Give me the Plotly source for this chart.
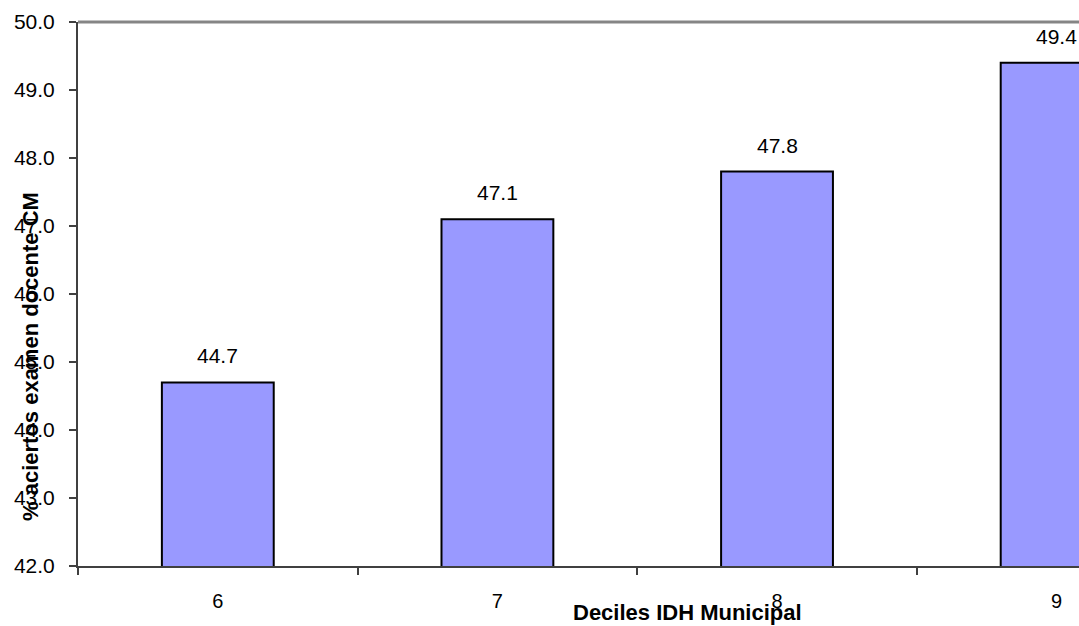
import plotly.graph_objects as go

# Deciles del IDH municipal y porcentaje de aciertos
deciles = ["6", "7", "8", "9"]
aciertos = [44.7, 47.1, 47.8, 49.4]
etiquetas = ["44.7", "47.1", "47.8", "49.4"]
y_ticks = [42, 43, 44, 45, 46, 47, 48, 49, 50]
y_tick_text = ["42.0", "43.0", "44.0", "45.0", "46.0", "47.0", "48.0", "49.0", "50.0"]

W, H = 1079, 626
ML, MT, MB, MR = 78, 22, 60, 0
plot_w = W - ML - MR
plot_h = H - MT - MB

font_family = "Liberation Sans, Arial, sans-serif"

fig = go.Figure()
fig.add_trace(go.Bar(
    x=deciles,
    y=aciertos,
    width=0.4,
    marker=dict(color="#9999FF", line=dict(color="#000000", width=2)),
    hoverinfo="x+y",
))

# Value labels above each bar (category positions by index)
for i, (v, t) in enumerate(zip(aciertos, etiquetas)):
    fig.add_annotation(
        x=i, y=v, text=t, showarrow=False,
        xanchor="center", yanchor="bottom", yshift=13,
        font=dict(family=font_family, size=21, color="#000000"),
    )

# Axis titles
fig.add_annotation(
    xref="paper", yref="paper",
    x=(687 - ML) / plot_w, y=-(612 - (MT + plot_h)) / plot_h,
    text="<b>Deciles IDH Municipal</b>", showarrow=False,
    xanchor="center", yanchor="middle",
    font=dict(family=font_family, size=22, color="#000000"),
)
fig.add_annotation(
    xref="paper", yref="paper",
    x=(30 - ML) / plot_w, y=1 - (357 - MT) / plot_h,
    text="<b>% aciertos examen docente CM</b>", showarrow=False,
    textangle=-90, xanchor="center", yanchor="middle",
    font=dict(family=font_family, size=22, color="#000000"),
)

# Plot area top border
fig.add_shape(
    type="line", xref="paper", yref="paper",
    x0=0, x1=1, y0=1, y1=1,
    line=dict(color="#858585", width=3),
)

fig.update_layout(
    width=W, height=H,
    margin=dict(l=ML, r=MR, t=MT, b=MB, autoexpand=False),
    paper_bgcolor="#FFFFFF",
    plot_bgcolor="#FFFFFF",
    showlegend=False,
    font=dict(family=font_family, size=21, color="#000000"),
    xaxis=dict(
        type="category",
        range=[-0.5, 3.08],
        tickson="boundaries",
        ticks="outside", ticklen=7, tickcolor="#404040", tickwidth=1.5,
        showline=True, linecolor="#404040", linewidth=2,
        showgrid=False, zeroline=False,
        tickfont=dict(family=font_family, size=20, color="#000000"),
        ticklabelstandoff=16,
        automargin=False,
    ),
    yaxis=dict(
        range=[42, 50],
        tickmode="array", tickvals=y_ticks, ticktext=y_tick_text,
        ticks="outside", ticklen=7, tickcolor="#404040", tickwidth=1.5,
        showline=True, linecolor="#404040", linewidth=2,
        showgrid=False, zeroline=False,
        tickfont=dict(family=font_family, size=21, color="#000000"),
        ticklabelstandoff=10,
        automargin=False,
    ),
)

fig.write_html("out.html")
